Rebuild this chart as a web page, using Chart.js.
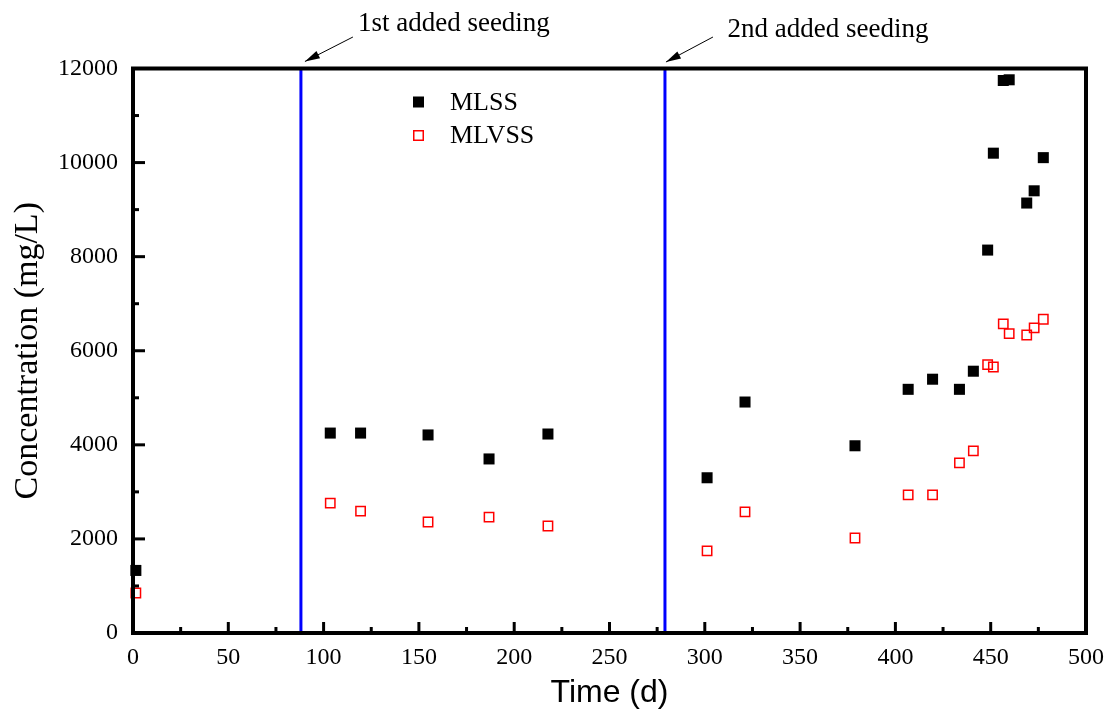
<!DOCTYPE html>
<html>
<head>
<meta charset="utf-8">
<title>MLSS / MLVSS</title>
<script src="https://cdn.jsdelivr.net/npm/chart.js@4.4.0/dist/chart.umd.min.js"></script>
<style>
    html, body { margin: 0; padding: 0; background: #fff; }
    #wrap { width: 1110px; height: 713px; }
</style>
</head>
<body>
<div id="wrap"><canvas id="chart" width="1110" height="713"></canvas></div>
<script>
// sampling days and concentrations (mg/L)
const days  = [1.5, 103.5, 119.4, 154.8, 186.8, 217.7, 301.2, 321.1, 378.8, 406.7,
               419.5, 433.6, 440.9, 448.4, 451.4, 456.6, 459.7, 468.9, 472.8, 477.6];
const mlss  = [1330, 4250, 4250, 4210, 3700, 4230, 3300, 4910, 3980, 5180,
               5395, 5180, 5565, 8140, 10200, 11745, 11760, 9140, 9400, 10105];
const mlvss = [850, 2760, 2590, 2360, 2465, 2275, 1745, 2575, 2020, 2935,
               2935, 3615, 3870, 5705, 5655, 6570, 6365, 6335, 6485, 6670];

const seriesNames = ['MLSS', 'MLVSS'];
const seedDays = [88.1, 279.1];
const seedLabels = ['1st added seeding', '2nd added seeding'];

const xMajor = [0, 50, 100, 150, 200, 250, 300, 350, 400, 450, 500];
const xMinor = [25, 75, 125, 175, 225, 275, 325, 375, 425, 475];
const yMajor = [0, 2000, 4000, 6000, 8000, 10000, 12000];
const yMinor = [1000, 3000, 5000, 7000, 9000, 11000];

const SERIF = 'Liberation Serif, Times New Roman, serif';
const SANS = 'Liberation Sans, Arial, sans-serif';

// blue seeding lines, under the points
const seedLines = {
    id: 'seedLines',
    beforeDatasetsDraw(chart) {
        const { ctx, chartArea: a, scales: { x } } = chart;
        ctx.save();
        ctx.strokeStyle = '#0000ff';
        ctx.lineWidth = 3;
        seedDays.forEach(d => {
            const px = x.getPixelForValue(d);
            ctx.beginPath();
            ctx.moveTo(px, a.top);
            ctx.lineTo(px, a.bottom);
            ctx.stroke();
        });
        ctx.restore();
    }
};

// box frame with inward ticks, drawn over the points like the original
const frame = {
    id: 'frame',
    afterDatasetsDraw(chart) {
        const { ctx, chartArea: a, scales: { x, y } } = chart;
        ctx.save();
        ctx.strokeStyle = '#000';
        ctx.lineWidth = 4;
        ctx.lineJoin = 'miter';
        ctx.strokeRect(a.left, a.top, a.right - a.left, a.bottom - a.top);

        ctx.lineWidth = 3;
        const tick = (x1, y1, x2, y2) => {
            ctx.beginPath();
            ctx.moveTo(x1, y1);
            ctx.lineTo(x2, y2);
            ctx.stroke();
        };
        xMajor.forEach(v => { const p = x.getPixelForValue(v); tick(p, a.bottom, p, a.bottom - 11); });
        xMinor.forEach(v => { const p = x.getPixelForValue(v); tick(p, a.bottom, p, a.bottom - 6); });
        yMajor.forEach(v => { const p = y.getPixelForValue(v); tick(a.left, p, a.left + 12, p); });
        yMinor.forEach(v => { const p = y.getPixelForValue(v); tick(a.left, p, a.left + 6, p); });
        ctx.restore();
    }
};

// legend inside the plot and the seeding arrows above it
const notes = {
    id: 'notes',
    afterDraw(chart) {
        const { ctx, chartArea: a, scales: { x } } = chart;
        ctx.save();

        // legend
        const lx = a.left + 285.5;
        const ly = [a.top + 33.5, a.top + 67];
        ctx.fillStyle = '#000';
        ctx.fillRect(lx - 5.5, ly[0] - 5.5, 11, 11);
        ctx.strokeStyle = '#ff0000';
        ctx.lineWidth = 1.5;
        ctx.strokeRect(lx - 4.75, ly[1] - 4.75, 9.5, 9.5);
        ctx.font = '26px ' + SERIF;
        ctx.textBaseline = 'middle';
        ctx.textAlign = 'left';
        ctx.fillStyle = '#000';
        ctx.fillText(seriesNames[0], lx + 31.5, ly[0] + 1);
        ctx.fillText(seriesNames[1], lx + 31.5, ly[1] + 1);

        // arrows + labels
        const arrows = [
            { tipDx: 4, tipDy: -7, tailDx: 52, tailDy: -31.5, textDx: 57, baseDy: -38 },
            { tipDx: 1, tipDy: -6.5, tailDx: 48, tailDy: -31.5, textDx: 62.5, baseDy: -31.5 }
        ];
        ctx.font = '27px ' + SERIF;
        ctx.textBaseline = 'alphabetic';
        seedDays.forEach((d, i) => {
            const px = x.getPixelForValue(d);
            const o = arrows[i];
            const tx = px + o.tipDx, ty = a.top + o.tipDy;
            const sx = px + o.tailDx, sy = a.top + o.tailDy;
            ctx.strokeStyle = '#000';
            ctx.lineWidth = 1;
            ctx.beginPath();
            ctx.moveTo(sx, sy);
            ctx.lineTo(tx, ty);
            ctx.stroke();
            const ang = Math.atan2(ty - sy, tx - sx);
            const len = 15, half = 4;
            const bx = tx - len * Math.cos(ang), by = ty - len * Math.sin(ang);
            ctx.beginPath();
            ctx.moveTo(tx, ty);
            ctx.lineTo(bx + half * Math.sin(ang), by - half * Math.cos(ang));
            ctx.lineTo(bx - half * Math.sin(ang), by + half * Math.cos(ang));
            ctx.closePath();
            ctx.fillStyle = '#000';
            ctx.fill();
            ctx.fillText(seedLabels[i], px + o.textDx, a.top + o.baseDy);
        });
        ctx.restore();
    }
};

const ctx = document.getElementById('chart').getContext('2d');
new Chart(ctx, {
    type: 'scatter',
    data: {
        datasets: [
            {
                label: seriesNames[0],
                data: days.map((d, i) => ({ x: d, y: mlss[i] })),
                pointStyle: 'rect',
                pointRadius: 7.8,
                backgroundColor: '#000',
                borderColor: '#000',
                borderWidth: 0,
                clip: false
            },
            {
                label: seriesNames[1],
                data: days.map((d, i) => ({ x: d, y: mlvss[i] })),
                pointStyle: 'rect',
                pointRadius: 6.6,
                backgroundColor: 'rgba(0,0,0,0)',
                borderColor: '#ff0000',
                borderWidth: 1.5,
                clip: false
            }
        ]
    },
    options: {
        responsive: false,
        animation: false,
        layout: { padding: { top: 68.5, right: 24, bottom: 0, left: 0 } },
        plugins: {
            legend: { display: false },
            tooltip: { enabled: false }
        },
        scales: {
            x: {
                type: 'linear',
                min: 0,
                max: 500,
                afterBuildTicks: s => { s.ticks = xMajor.map(v => ({ value: v })); },
                afterFit: s => { s.height = 80; },
                grid: { display: false },
                border: { display: false },
                ticks: {
                    color: '#000',
                    padding: 2,
                    autoSkip: false,
                    maxRotation: 0,
                    font: { family: SERIF, size: 24 },
                    callback: v => String(v)
                },
                title: {
                    display: true,
                    text: 'Time (d)',
                    color: '#000',
                    font: { family: SANS, size: 32 },
                    padding: { top: 0, bottom: 1 }
                }
            },
            y: {
                type: 'linear',
                min: 0,
                max: 12000,
                afterBuildTicks: s => { s.ticks = yMajor.map(v => ({ value: v })); },
                afterFit: s => { s.width = 133; },
                grid: { display: false, drawTicks: false },
                border: { display: false },
                ticks: {
                    color: '#000',
                    padding: 15,
                    autoSkip: false,
                    font: { family: SERIF, size: 24 },
                    callback: v => String(v)
                },
                title: {
                    display: true,
                    text: 'Concentration (mg/L)',
                    color: '#000',
                    font: { family: SERIF, size: 34 },
                    padding: { top: 8, bottom: 0 }
                }
            }
        }
    },
    plugins: [seedLines, frame, notes]
});
</script>
</body>
</html>
